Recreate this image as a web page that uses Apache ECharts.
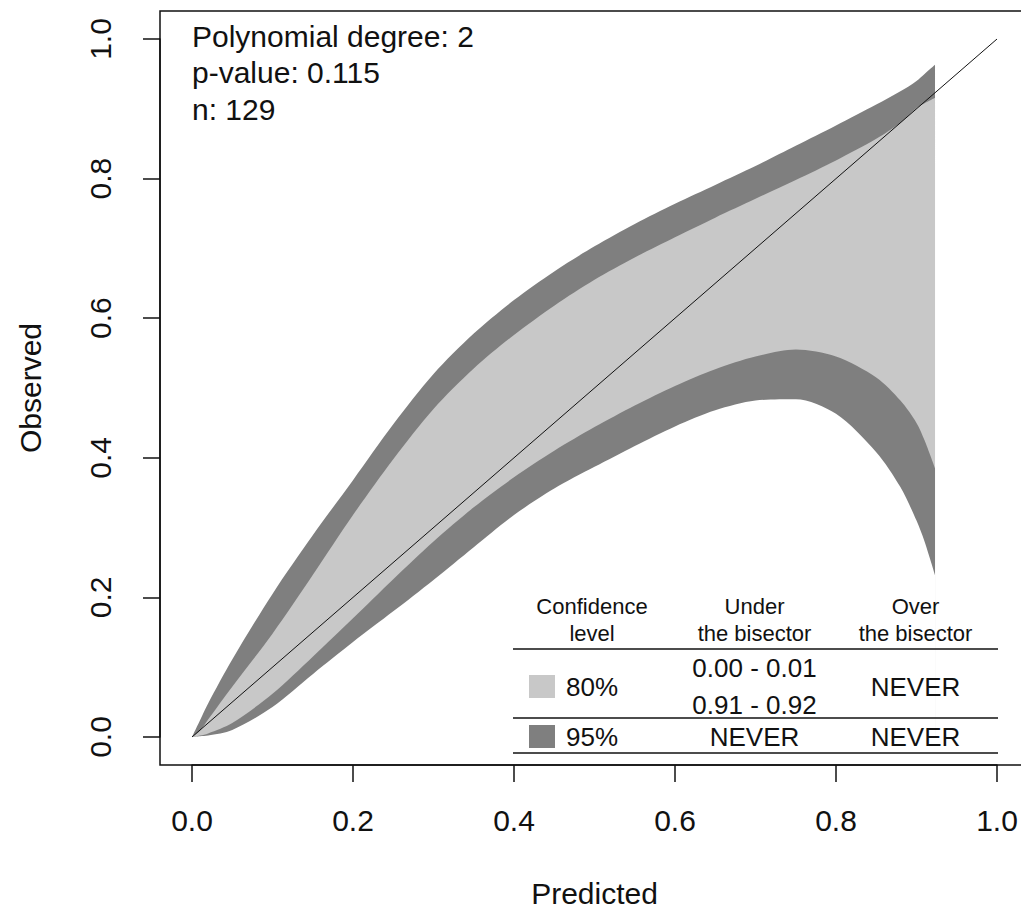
<!DOCTYPE html>
<html>
<head>
<meta charset="utf-8">
<script src="https://cdn.jsdelivr.net/npm/echarts@6/dist/echarts.min.js"></script>
<style>
html, body { margin: 0; padding: 0; background: #fff; }
#main { width: 1021px; height: 918px; }
</style>
</head>
<body>
<div id="main"></div>
<script>
// values
var predicted = [0, 0.01, 0.02, 0.05, 0.1, 0.15, 0.2, 0.25, 0.3, 0.35, 0.4, 0.45, 0.5,
                 0.55, 0.6, 0.65, 0.7, 0.75, 0.8, 0.85, 0.88, 0.9, 0.91, 0.923];
var upper95 = [0, 0.024, 0.048, 0.111, 0.205, 0.289, 0.368, 0.448, 0.52, 0.578, 0.626, 0.667, 0.703,
               0.735, 0.764, 0.791, 0.818, 0.847, 0.876, 0.906, 0.925, 0.94, 0.95, 0.963];
var upper80 = [0, 0.009, 0.025, 0.072, 0.148, 0.232, 0.318, 0.398, 0.47, 0.528, 0.576, 0.618, 0.655,
               0.687, 0.716, 0.744, 0.771, 0.798, 0.826, 0.857, 0.88, 0.901, 0.908, 0.916];
var lower80 = [0, 0.002, 0.005, 0.02, 0.062, 0.115, 0.17, 0.226, 0.28, 0.329, 0.372, 0.41, 0.444,
               0.475, 0.503, 0.527, 0.545, 0.555, 0.545, 0.515, 0.482, 0.45, 0.425, 0.385];
var lower95 = [0, 0.001, 0.002, 0.01, 0.043, 0.09, 0.136, 0.18, 0.225, 0.272, 0.318, 0.356, 0.387,
               0.417, 0.445, 0.468, 0.482, 0.484, 0.463, 0.408, 0.358, 0.31, 0.28, 0.232];
var bisector = [[0, 0], [1, 1]];

var infoLines = ['Polynomial degree: 2', 'p-value: 0.115', 'n: 129'];
var tableHeader = [['Confidence', 'level'], ['Under', 'the bisector'], ['Over', 'the bisector']];
var levels = ['80%', '95%'];
var underBisector = [['0.00 - 0.01', '0.91 - 0.92'], ['NEVER']];
var overBisector = [['NEVER'], ['NEVER']];

var light = '#c8c8c8';
var dark = '#7f7f7f';
var font = '"Liberation Sans", Arial, sans-serif';

function pairs(vals) {
    return predicted.map(function (x, i) { return [x, vals[i]]; });
}

// each edge is filled down to y = 0, later series paint over earlier ones
function band(name, vals, color) {
    return {
        name: name, type: 'line', data: pairs(vals),
        symbol: 'none', silent: true, smooth: 0.3,
        lineStyle: { width: 0, opacity: 0 },
        areaStyle: { color: color, opacity: 1, origin: 'start' }
    };
}

function txt(s, x, y, size, align) {
    return {
        type: 'text', silent: true, z: 100,
        style: {
            text: s, x: x, y: y, fill: '#111', font: size + 'px ' + font,
            textAlign: align || 'center', textVerticalAlign: 'middle',
            align: align || 'center', verticalAlign: 'middle'
        }
    };
}

function hline(x1, x2, y) {
    return {
        type: 'line', silent: true, z: 100,
        shape: { x1: x1, y1: y, x2: x2, y2: y },
        style: { stroke: '#111', lineWidth: 1.5 }
    };
}

// frame, text block, table
var elements = [{
    type: 'rect', silent: true, z: 100,
    shape: { x: 160, y: 11, width: 869, height: 754 },
    style: { fill: null, stroke: '#111', lineWidth: 1.5 }
}];
infoLines.forEach(function (s, i) {
    elements.push(txt(s, 192, 36 + i * 36.5, 30, 'left'));
});

var colX = [592, 754.5, 915.5];
tableHeader.forEach(function (h, i) {
    elements.push(txt(h[0], colX[i], 606, 22));
    elements.push(txt(h[1], colX[i], 633, 22));
});
elements.push(hline(513, 998, 649));
elements.push(hline(513, 998, 718));
elements.push(hline(513, 998, 753));

var rowY = [687, 737];
[light, dark].forEach(function (c, r) {
    elements.push({
        type: 'rect', silent: true, z: 100,
        shape: { x: 529, y: rowY[r] - 12, width: 26, height: 23 },
        style: { fill: c }
    });
    elements.push(txt(levels[r], 592, rowY[r], 26));
    var u = underBisector[r];
    if (u.length === 2) {
        elements.push(txt(u[0], colX[1], rowY[r] - 19, 26));
        elements.push(txt(u[1], colX[1], rowY[r] + 18, 26));
    } else {
        elements.push(txt(u[0], colX[1], rowY[r], 26));
    }
    elements.push(txt(overBisector[r][0], colX[2], rowY[r], 26));
});

var labelStyle = { fontFamily: font, fontSize: 30, color: '#111' };

var option = {
    animation: false,
    grid: { left: 192, top: 39, width: 805, height: 698, outerBoundsMode: 'none' },
    xAxis: {
        type: 'value', min: 0, max: 1, interval: 0.2, offset: 28,
        name: 'Predicted', nameLocation: 'middle', nameGap: 113,
        nameTextStyle: labelStyle,
        axisLine: { show: true, onZero: false, lineStyle: { color: '#111', width: 1.5 } },
        axisTick: { show: true, length: 17, lineStyle: { color: '#111', width: 1.5 } },
        axisLabel: Object.assign({ margin: 40, formatter: function (v) { return v.toFixed(1); } }, labelStyle),
        splitLine: { show: false }
    },
    yAxis: {
        type: 'value', min: 0, max: 1, interval: 0.2, offset: 32,
        name: 'Observed', nameLocation: 'middle', nameGap: 115, nameRotate: 90,
        nameTextStyle: labelStyle,
        axisLine: { show: true, onZero: false, lineStyle: { color: '#111', width: 1.5 } },
        axisTick: { show: true, length: 17, lineStyle: { color: '#111', width: 1.5 } },
        axisLabel: Object.assign({ margin: 45, rotate: 90, formatter: function (v) { return v.toFixed(1); } }, labelStyle),
        splitLine: { show: false }
    },
    series: [
        band('95% upper', upper95, dark),
        band('80% upper', upper80, light),
        band('80% lower', lower80, dark),
        band('95% lower', lower95, '#ffffff'),
        {
            name: 'bisector', type: 'line', data: bisector, symbol: 'none', silent: true,
            lineStyle: { color: '#111', width: 1 }
        }
    ],
    graphic: { elements: elements }
};

var chart = echarts.init(document.getElementById('main'), null, { renderer: 'svg' });
chart.setOption(option);
</script>
</body>
</html>
